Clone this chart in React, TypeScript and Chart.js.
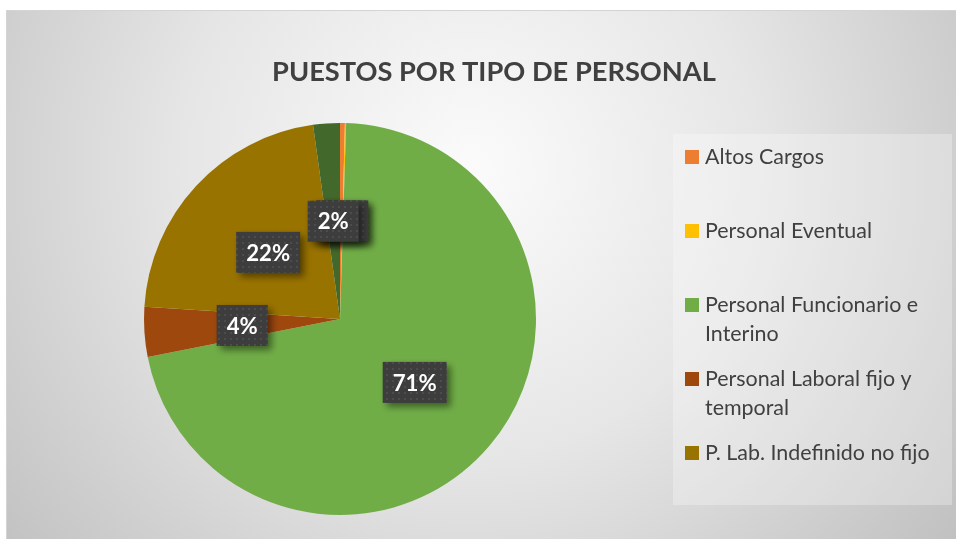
import React, { useEffect, useRef } from "react";
import { Chart, registerables } from "chart.js";

Chart.register(...registerables);

const title = "PUESTOS POR TIPO DE PERSONAL";
const categories: string[][] = [
  ["Altos Cargos"],
  ["Personal Eventual"],
  ["Personal Funcionario e", "Interino"],
  ["Personal Laboral fijo y", "temporal"],
  ["P. Lab. Indefinido no fijo"],
  ["Otros"],
];
const values = [0.4, 0.1, 71.4, 4.1, 21.8, 2.2];
const colors = ["#ED7D31", "#FFC000", "#70AD47", "#9E480E", "#997300", "#43682B"];
const legendCount = 5;

const FONT = "Lato, 'Open Sans', sans-serif";

function fitSize(ctx: CanvasRenderingContext2D, text: string, weight: string, target: number) {
  ctx.font = `${weight} 100px ${FONT}`;
  const w = ctx.measureText(text).width;
  return (100 * target) / w;
}

const framePlugin = {
  id: "frame",
  beforeDraw(chart: any) {
    const ctx = chart.ctx as CanvasRenderingContext2D;
    ctx.save();
    ctx.fillStyle = "#ffffff";
    ctx.fillRect(0, 0, chart.width, chart.height);
    const g = ctx.createRadialGradient(470, 170, 0, 470, 170, 640);
    g.addColorStop(0, "#fbfbfb");
    g.addColorStop(0.45, "#e6e6e6");
    g.addColorStop(1, "#bdbdbd");
    ctx.fillStyle = g;
    ctx.fillRect(7, 10, chart.width - 7, chart.height - 10);
    ctx.strokeStyle = "#d4d4d4";
    ctx.lineWidth = 1;
    ctx.strokeRect(6.5, 10.5, chart.width, chart.height);
    // legend box
    ctx.fillStyle = "rgba(255,255,255,0.28)";
    ctx.fillRect(673, 134, 279, 371);
    // title
    const ts = fitSize(ctx, title, "bold", 444);
    ctx.font = `bold ${ts}px ${FONT}`;
    ctx.fillStyle = "#404040";
    ctx.textAlign = "center";
    ctx.textBaseline = "alphabetic";
    ctx.fillText(title, 494, 81);
    ctx.restore();
  },
};

function makePattern(ctx: CanvasRenderingContext2D) {
  const c = document.createElement("canvas");
  c.width = 6;
  c.height = 6;
  const p = c.getContext("2d")!;
  p.fillStyle = "#3d3d3d";
  p.fillRect(0, 0, 6, 6);
  p.fillStyle = "#4c4c4c";
  p.fillRect(2, 2, 2, 2);
  return ctx.createPattern(c, "repeat")!;
}

const labelPlugin = {
  id: "boxLabels",
  afterDatasetsDraw(chart: any) {
    const ctx = chart.ctx as CanvasRenderingContext2D;
    const meta = chart.getDatasetMeta(0);
    const data = chart.data.datasets[0].data as number[];
    const total = data.reduce((a, b) => a + b, 0);
    const pattern = makePattern(ctx);
    ctx.save();
    const fs = fitSize(ctx, "71%", "bold", 44);
    meta.data.forEach((arc: any, i: number) => {
      const mid = (arc.startAngle + arc.endAngle) / 2;
      const r = arc.outerRadius * 0.5;
      const cx = arc.x + Math.cos(mid) * r;
      const cy = arc.y + Math.sin(mid) * r;
      const txt = `${Math.round((data[i] / total) * 100)}%`;
      ctx.font = `bold ${fs}px ${FONT}`;
      const tw = ctx.measureText(txt).width;
      const bw = tw + 20;
      const bh = 41;
      ctx.save();
      ctx.shadowColor = "rgba(0,0,0,0.45)";
      ctx.shadowBlur = 7;
      ctx.shadowOffsetX = 4;
      ctx.shadowOffsetY = 4;
      ctx.fillStyle = pattern;
      ctx.fillRect(cx - bw / 2, cy - bh / 2, bw, bh);
      ctx.restore();
      ctx.fillStyle = "#ffffff";
      ctx.textAlign = "center";
      ctx.textBaseline = "middle";
      ctx.fillText(txt, cx, cy + 1);
    });
    ctx.restore();
  },
};

const legendPlugin = {
  id: "sideLegend",
  afterDraw(chart: any) {
    const ctx = chart.ctx as CanvasRenderingContext2D;
    ctx.save();
    const fs = fitSize(ctx, "Altos Cargos", "normal", 119);
    ctx.font = `normal ${fs}px ${FONT}`;
    ctx.textAlign = "left";
    ctx.textBaseline = "alphabetic";
    for (let i = 0; i < legendCount; i++) {
      const yc = 157 + i * 74;
      ctx.fillStyle = colors[i];
      ctx.fillRect(685, yc - 7, 14, 14);
      ctx.fillStyle = "#404040";
      categories[i].forEach((line, j) => {
        ctx.fillText(line, 705, yc + 7 + j * 29);
      });
    }
    ctx.restore();
  },
};

export default function App() {
  const ref = useRef<HTMLCanvasElement>(null);
  useEffect(() => {
    if (!ref.current) return;
    const chart = new Chart(ref.current, {
      type: "pie",
      data: {
        labels: categories.map((c) => c.join(" ")),
        datasets: [
          {
            data: values,
            backgroundColor: colors,
            borderWidth: 0,
          },
        ],
      },
      options: {
        responsive: false,
        animation: false,
        devicePixelRatio: 1,
        layout: { padding: { left: 144, right: 420, top: 123, bottom: 24 } },
        plugins: {
          legend: { display: false },
          tooltip: { enabled: false },
          title: { display: false },
        },
      },
      plugins: [framePlugin, labelPlugin, legendPlugin],
    });
    return () => chart.destroy();
  }, []);
  return (
    <div style={{ position: "absolute", left: 0, top: 0, width: 956, height: 539 }}>
      <canvas ref={ref} width={956} height={539} style={{ display: "block" }} />
    </div>
  );
}
